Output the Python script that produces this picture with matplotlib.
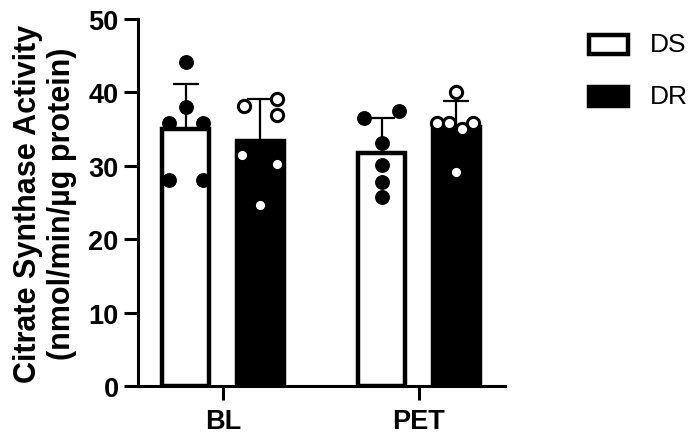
import matplotlib
matplotlib.use("Agg")
import matplotlib.pyplot as plt
from matplotlib.patches import Rectangle
import numpy as np

plt.rcParams['font.family'] = ['Liberation Sans', 'DejaVu Sans']

categories = ["BL", "PET"]
groups = ["DS", "DR"]

# individual data points (nmol/min/µg protein)
bl_ds = [44.2, 38.0, 35.8, 35.8, 28.0, 28.0]
bl_dr = [38.2, 39.1, 36.9, 31.5, 30.2, 24.6]
pet_ds = [36.5, 37.5, 33.1, 30.1, 27.8, 25.7]
pet_dr = [40.1, 35.8, 35.8, 35.8, 35.0, 29.1]

# horizontal scatter offsets of the points (category units)
bl_ds_jit = [0.0, 0.0, -0.085, 0.09, -0.085, 0.09]
bl_dr_jit = [-0.082, 0.087, 0.087, -0.092, 0.087, 0.0]
pet_ds_jit = [-0.092, 0.087, 0.0, 0.0, 0.0, 0.0]
pet_dr_jit = [0.0, -0.097, -0.036, 0.087, 0.03, 0.0]

data = {"DS": [bl_ds, pet_ds], "DR": [bl_dr, pet_dr]}
jit = {"DS": [bl_ds_jit, pet_ds_jit], "DR": [bl_dr_jit, pet_dr_jit]}

W, H = 695, 439
fig = plt.figure(figsize=(W / 100, H / 100), dpi=100)
ax = fig.add_axes([138 / W, 1 - 387 / H, (505 - 138) / W, (387 - 20) / H])

width = 0.24
offsets = {"DS": -0.19, "DR": 0.19}
x = np.arange(len(categories))

for g in groups:
    means = [np.mean(v) for v in data[g]]
    sds = [np.std(v, ddof=1) for v in data[g]]
    pos = x + offsets[g]
    face = "white" if g == "DS" else "black"
    ax.bar(pos, means, width=width, color=face, edgecolor="black",
           linewidth=3.2, zorder=2)
    ax.errorbar(pos, means, yerr=[np.zeros(len(sds)), sds], fmt="none",
                ecolor="black", elinewidth=1.6, capsize=9.5, capthick=1.6,
                zorder=3)
    for i in range(len(categories)):
        px = pos[i] + np.array(jit[g][i])
        if g == "DS":
            ax.plot(px, data[g][i], "o", ms=9.5, mfc="black", mec="black",
                    mew=1.2, zorder=4, clip_on=False)
        else:
            ax.plot(px, data[g][i], "o", ms=8.8, mfc="white", mec="black",
                    mew=2.2, zorder=4, clip_on=False)

ax.set_xlim(-0.434, 1.439)
ax.set_ylim(0, 50)
ax.set_yticks([0, 10, 20, 30, 40, 50])
ax.set_xticks(x)
ax.set_xticklabels(categories)
for s in ["top", "right"]:
    ax.spines[s].set_visible(False)
for s in ["left", "bottom"]:
    ax.spines[s].set_linewidth(2.2)
ax.tick_params(axis="both", width=2.2, length=10, labelsize=19.5)
ax.tick_params(axis="y", pad=4)
ax.tick_params(axis="x", pad=6)
for lab in ax.get_xticklabels() + ax.get_yticklabels():
    lab.set_fontweight("bold")
ax.set_ylabel("Citrate Synthase Activity\n(nmol/min/µg protein)",
              fontsize=22, fontweight="bold", labelpad=8, linespacing=1.2)

# legend drawn in figure pixel positions
legend_faces = ["white", "black"]
legend_y = [45, 97]
for g, fc, yc in zip(groups, legend_faces, legend_y):
    fig.add_artist(Rectangle((588.5 / W, 1 - (yc + 9.5) / H), 39 / W, 19 / H,
                             transform=fig.transFigure, facecolor=fc,
                             edgecolor="black", linewidth=3.2))
    fig.text(650 / W, 1 - yc / H, g, fontsize=19, va="center", ha="left")

fig.savefig("out.png", dpi=100)
